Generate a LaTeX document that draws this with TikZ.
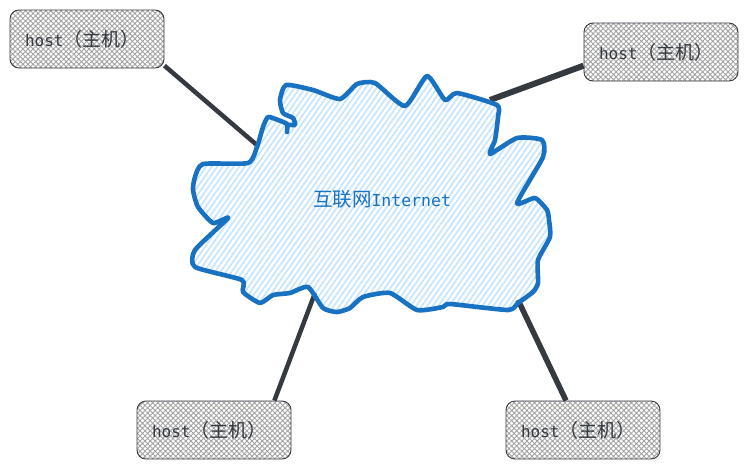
\documentclass[tikz,border=0pt]{standalone}
\usepackage{fontspec}
\setmainfont{DejaVu Sans Mono}
\newfontfamily\cjk{Noto Sans CJK SC}
\usetikzlibrary{patterns.meta}
\definecolor{inkdark}{HTML}{343A40}
\definecolor{cloudblue}{HTML}{1971C2}
\definecolor{cloudfill}{HTML}{C3E4FF}
\tikzset{
  hostbox/.style={draw=inkdark,line width=.9pt,rounded corners=9pt,text width=124pt,align=left,inner xsep=15pt,
    minimum height=58pt,inner ysep=0pt,text=inkdark,font=\fontsize{16}{18}\selectfont,
    pattern={Hatch[angle=45,distance=3.6pt,line width=.9pt]},pattern color=black!36},
  link/.style={draw=inkdark,line width=4.5pt},
}
\newcommand{\hostname}{host{\cjk\fontsize{19}{18}\selectfont（主机）}}
\begin{document}
\begin{tikzpicture}[x=1pt,y=-1pt]
	\useasboundingbox (0,0) rectangle (747,469);
	\node [hostbox] (hostA) at (87,39) {\hostname};
	\node [hostbox] (hostB) at (661,52) {\hostname};
	\node [hostbox] (hostC) at (214,430) {\hostname};
	\node [hostbox] (hostD) at (583,430) {\hostname};
	\coordinate (gateA) at (258,146);
	\coordinate (gateB) at (490,100);
	\coordinate (gateC) at (315,293);
	\coordinate (gateD) at (518,300);
	\draw [link] (hostA.341) -- (gateA);
	\draw [link,line width=6pt] (hostB.190) -- (gateB);
	\draw [link] (hostC.26) -- (gateC);
	\draw [link,line width=5.5pt] (hostD.120) -- (gateD);
	% cloud outline
	\draw [cloudblue,line width=4.6pt,line join=round,pattern={Lines[angle=55,distance=4.5pt,line width=1.6pt]},pattern color=cloudfill]
		plot [smooth cycle,tension=.35] coordinates {
		(286,85) (313,90) (340,99) (357,84) (375,83) (405,106) (427,76) (445,100) (457,93)
		(497,105) (498,117) (495,140) (490,154) (517,138) (542,140) (543,157) (517,203) (535,198)
		(547,210) (549,220) (550,237) (538,260) (538,283) (533,292) (518,303) (508,310) (450,304) (443,307)
		(417,310) (390,293) (363,297) (350,308) (337,312) (323,308) (308,287) (290,293) (273,295)
		(260,303) (243,292) (242,280) (195,267) (195,250) (228,218) (213,223) (198,207) (193,190)
		(195,177) (203,164) (248,163) (257,147) (263,127) (268,117) (278,120) (287,124) (287,132)
		(288,125) (295,125) (293,118) (283,113) (280,100)};
	\node [text=cloudblue,font=\fontsize{16.5}{18}\selectfont,inner sep=0pt] (netLabel) at (382,199) {{\cjk\fontsize{19.5}{18}\selectfont 互联网}Internet};
\end{tikzpicture}
\end{document}
